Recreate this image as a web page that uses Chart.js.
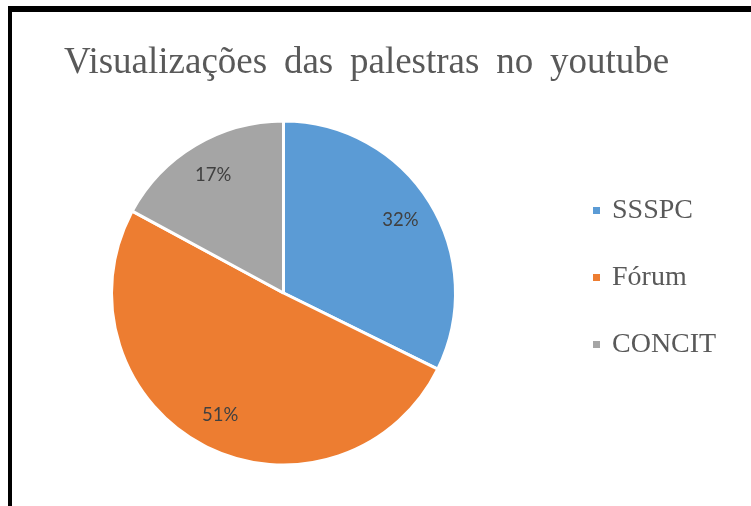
<!DOCTYPE html>
<html lang="pt">
<head>
<meta charset="utf-8">
<title>Visualizações das palestras no youtube</title>
<script src="https://cdn.jsdelivr.net/npm/chart.js@4.4.1/dist/chart.umd.min.js"></script>
<style>
  html, body { margin: 0; padding: 0; background: #fff; }
  #wrap { position: relative; width: 751px; height: 506px; overflow: hidden; }
  #frame {
    position: absolute; left: 8px; top: 6px; right: 0; bottom: 0;
    border-top: 6px solid #000; border-left: 4px solid #000;
  }
  #chart { position: absolute; left: 0; top: 0; }
</style>
</head>
<body>
<div id="wrap">
  <canvas id="chart" width="751" height="506"></canvas>
  <div id="frame"></div>
</div>
<script>
// --- data ---
const TITLE = 'Visualizações das palestras no youtube';
const categories = ['SSSPC', 'Fórum', 'CONCIT'];
const views = [32.3, 50.6, 17.1];   // share of views, %

// Office default palette
const sliceColors = ['#5B9BD5', '#ED7D31', '#A5A5A5'];
const TEXT = '#595959';

/* Title, legend and percentage labels drawn like the Excel original */
const excelDecor = {
  id: 'excelDecor',
  afterDatasetsDraw(chart) {
    const { ctx } = chart;
    const meta = chart.getDatasetMeta(0);
    const total = views.reduce((a, b) => a + b, 0);
    ctx.save();
    ctx.font = '18.5px Lato, "Liberation Sans", sans-serif';
    ctx.fillStyle = '#404040';
    ctx.textAlign = 'center';
    ctx.textBaseline = 'middle';
    meta.data.forEach((arc, i) => {
      const { x, y, startAngle, endAngle, outerRadius } =
        arc.getProps(['x', 'y', 'startAngle', 'endAngle', 'outerRadius'], true);
      const mid = (startAngle + endAngle) / 2;
      const r = outerRadius * 0.8;
      const pct = Math.round((views[i] / total) * 100) + '%';
      ctx.fillText(pct, x + Math.cos(mid) * r, y + Math.sin(mid) * r);
    });
    ctx.restore();
  },
  afterDraw(chart) {
    const { ctx } = chart;
    ctx.save();
    // title
    ctx.font = '37px "Liberation Serif", "Times New Roman", serif';
    if ('wordSpacing' in ctx) ctx.wordSpacing = '7.5px';
    ctx.fillStyle = TEXT;
    ctx.textAlign = 'center';
    ctx.textBaseline = 'alphabetic';
    ctx.fillText(TITLE, 366.5, 72.5);
    if ('wordSpacing' in ctx) ctx.wordSpacing = '0px';

    // legend
    ctx.font = '28px "Liberation Serif", "Times New Roman", serif';
    ctx.textAlign = 'left';
    categories.forEach((name, i) => {
      const y = 210.5 + i * 67;
      ctx.fillStyle = sliceColors[i];
      ctx.fillRect(593, y - 3.5, 7, 7);
      ctx.fillStyle = TEXT;
      ctx.fillText(name, 612, y + 7);
    });
    ctx.restore();
  }
};

new Chart(document.getElementById('chart'), {
  type: 'pie',
  data: {
    labels: categories,
    datasets: [{
      data: views,
      backgroundColor: sliceColors,
      borderColor: '#ffffff',
      borderWidth: 3
    }]
  },
  options: {
    responsive: false,
    animation: false,
    layout: { padding: { left: 110, right: 294, top: 119, bottom: 39 } },
    plugins: {
      legend: { display: false },
      title: { display: false },
      tooltip: { enabled: false }
    }
  },
  plugins: [excelDecor]
});
</script>
</body>
</html>
